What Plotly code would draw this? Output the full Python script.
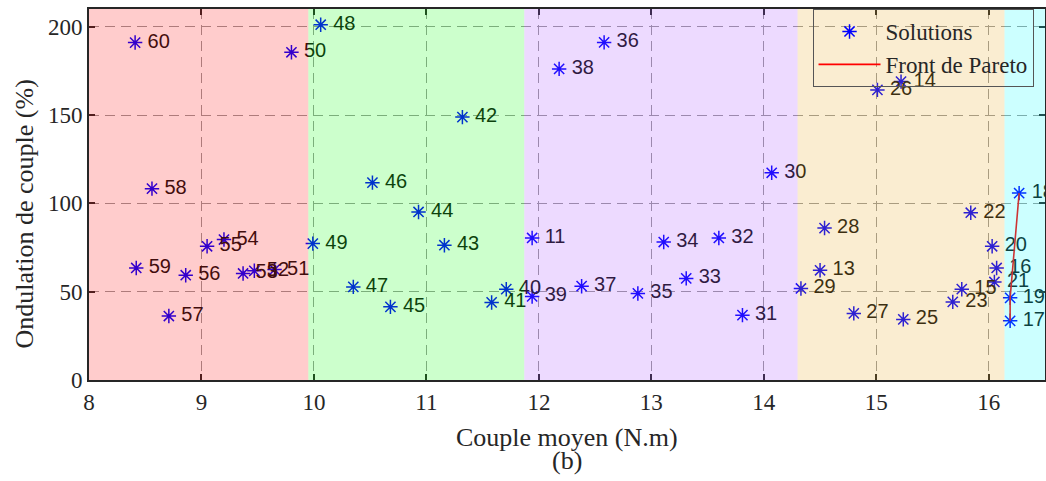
import plotly.graph_objects as go

# ---- data ----
labels = [11, 13, 14, 15, 16, 17, 18, 19, 20, 21, 22, 23, 25, 26, 27, 28, 29, 30,
          31, 32, 33, 34, 35, 36, 37, 38, 39, 40, 41, 42, 43, 44, 45, 46, 47, 48,
          49, 50, 51, 52, 53, 54, 55, 56, 57, 58, 59, 60]
couple = [11.94, 14.50, 15.22, 15.76, 16.07, 16.19, 16.27, 16.19, 16.03, 16.05, 15.84, 15.68,
          15.24, 15.01, 14.80, 14.54, 14.33, 14.07, 13.81, 13.60, 13.31, 13.11, 12.88, 12.58,
          12.38, 12.18, 11.94, 11.71, 11.58, 11.32, 11.16, 10.93, 10.68, 10.52, 10.35, 10.06,
          9.99, 9.80, 9.65, 9.47, 9.37, 9.20, 9.05, 8.86, 8.71, 8.56, 8.42, 8.41]
ondulation = [80.4, 62.1, 168.9, 51.4, 63.4, 33.5, 105.8, 46.5, 75.7, 55.5, 94.7, 44.2,
              34.3, 164.2, 37.7, 86.0, 51.8, 117.3, 36.7, 80.4, 57.5, 78.1, 49.0, 191.1,
              53.1, 176.1, 47.3, 51.4, 43.9, 148.8, 76.3, 95.1, 41.4, 111.7, 52.7, 201.1,
              77.2, 185.5, 62.5, 61.8, 60.3, 79.5, 75.7, 59.3, 36.2, 108.3, 63.4, 191.0]

pareto_labels = [17, 19, 18]
pareto_x = [16.19, 16.19, 16.27]
pareto_y = [33.5, 46.5, 105.8]

region_bounds = [8.0, 9.95, 11.87, 14.30, 16.14, 16.5]
region_colors = ["rgb(255,0,0)", "rgb(0,255,0)", "rgb(165,70,255)", "rgb(230,165,25)", "rgb(0,255,255)"]

x_ticks = [8, 9, 10, 11, 12, 13, 14, 15, 16]
y_ticks = [0, 50, 100, 150, 200]

serif = "Liberation Serif, Times New Roman, serif"
sans = "Liberation Sans, Arial, sans-serif"

fig = go.Figure()

fig.add_trace(go.Scatter(
    x=couple, y=ondulation, mode="markers+text",
    text=["\u2009" + str(v) for v in labels], textposition="middle right",
    textfont=dict(family=sans, size=20, color="#111111"),
    marker=dict(symbol="asterisk-open", size=12, color="rgb(0,0,255)",
                line=dict(color="rgb(0,0,255)", width=1.5)),
    showlegend=False, cliponaxis=True,
))
fig.add_trace(go.Scatter(
    x=[None], y=[None], mode="markers", name="Solutions",
    marker=dict(symbol="asterisk-open", size=12, color="rgb(0,0,255)",
                line=dict(color="rgb(0,0,255)", width=1.5)),
))
fig.add_trace(go.Scatter(
    x=pareto_x, y=pareto_y, mode="lines", name="Front de Pareto",
    line=dict(color="rgb(255,0,0)", width=1.6),
))

shapes = []
for i, c in enumerate(region_colors):
    shapes.append(dict(type="rect", xref="x", yref="y",
                       x0=region_bounds[i], x1=region_bounds[i + 1], y0=0, y1=210,
                       fillcolor=c, opacity=0.2, line=dict(width=0), layer="above"))

annotations = [
    dict(text="Couple moyen (N.m)", xref="paper", yref="paper", x=0.5, y=0,
         xanchor="center", yanchor="middle", yshift=-57, showarrow=False,
         font=dict(family=serif, size=26, color="#262626")),
    dict(text="(b)", xref="paper", yref="paper", x=0.5, y=0,
         xanchor="center", yanchor="middle", yshift=-80, showarrow=False,
         font=dict(family=serif, size=26, color="#262626")),
    dict(text="Ondulation de couple (%)", xref="paper", yref="paper", x=0, y=0.5,
         xanchor="center", yanchor="middle", xshift=-65, yshift=-20, textangle=-90,
         showarrow=False, font=dict(family=serif, size=26, color="#262626")),
]

axis_common = dict(
    showline=True, linecolor="#262626", linewidth=2, mirror="ticks",
    ticks="inside", ticklen=6, tickwidth=1.5, tickcolor="#262626",
    showgrid=True, gridcolor="#9a9a9a", gridwidth=1, griddash="10px,6px",
    zeroline=False, automargin=False,
    tickfont=dict(family=serif, size=23, color="#262626"),
)

fig.update_layout(
    width=1046, height=481,
    margin=dict(l=89, r=1, t=9, b=101, autoexpand=False),
    paper_bgcolor="white", plot_bgcolor="white",
    xaxis=dict(range=[8, 16.5], tickvals=x_ticks, **axis_common),
    yaxis=dict(range=[0, 210], tickvals=y_ticks, **axis_common),
    shapes=shapes, annotations=annotations,
    legend=dict(x=0.988, y=1, xanchor="right", yanchor="top",
                bgcolor="rgba(0,0,0,0)", bordercolor="#555555", borderwidth=1,
                font=dict(family=serif, size=23, color="#262626"),
                tracegroupgap=0, itemwidth=62),
)

fig.write_html("out.html", config={"displayModeBar": False},
               post_script="document.body.style.margin='0';document.body.style.overflow='hidden';")
